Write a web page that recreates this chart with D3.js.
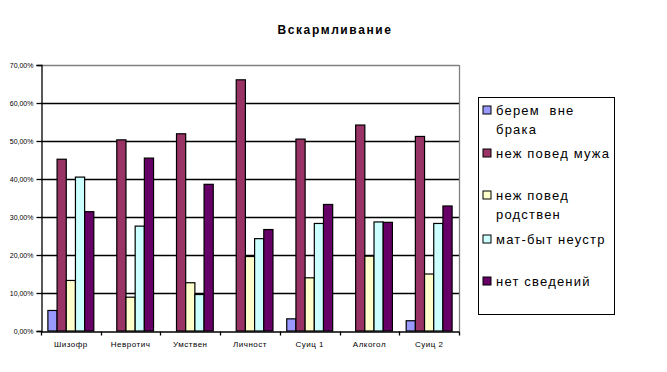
<!DOCTYPE html>
<html>
<head>
<meta charset="utf-8">
<script src="https://cdnjs.cloudflare.com/ajax/libs/d3/7.8.5/d3.min.js"></script>
<style>
    body { margin: 0; background: #fff; }
    svg { display: block; }
    text { font-family: "Liberation Sans", Arial, sans-serif; white-space: pre; }
</style>
</head>
<body>
<div id="chart"></div>
<script>
(function () {

    "use strict";

    // Chart data
    var categories = ["Шизофр", "Невротич", "Умствен", "Личност", "Суиц 1", "Алкогол", "Суиц 2"];
    var seriesNames = ["берем  вне брака", "неж повед мужа", "неж повед родствен", "мат-быт неустр", "нет сведений"];
    var beremVneBraka = [0.054, 0, 0, 0, 0.032, 0, 0.027];
    var nezhPovedMuzha = [0.452, 0.503, 0.519, 0.661, 0.505, 0.542, 0.512];
    var nezhPovedRodstven = [0.133, 0.089, 0.127, 0.196, 0.140, 0.197, 0.150];
    var matBytNeustr = [0.405, 0.276, 0.096, 0.243, 0.283, 0.287, 0.283];
    var netSvedeniy = [0.314, 0.455, 0.386, 0.267, 0.333, 0.286, 0.329];
    var yTicks = [0, 0.1, 0.2, 0.3, 0.4, 0.5, 0.6, 0.7];

    var seriesValues = [beremVneBraka, nezhPovedMuzha, nezhPovedRodstven, matBytNeustr, netSvedeniy];
    var colors = ["#9999FF", "#993366", "#FFFFCC", "#CCFFFF", "#660066"];
    var legendLines = [["берем  вне", "брака"], ["неж повед мужа"], ["неж повед", "родствен"], ["мат-быт неустр"], ["нет сведений"]];

    var width = 667, height = 372,
        plot = {left: 41, right: 459, top: 65, bottom: 331};

    var svg = d3.select("#chart").append("svg")
        .attr("width", width)
        .attr("height", height);

    var x0 = d3.scaleBand()
        .domain(categories)
        .range([plot.left, plot.right])
        .paddingInner(0)
        .paddingOuter(0);

    var x1 = d3.scaleBand()
        .domain(d3.range(seriesNames.length))
        .range([0, x0.bandwidth()])
        .paddingInner(0)
        .paddingOuter(0.75);

    var y = d3.scaleLinear()
        .domain([0, 0.7])
        .range([plot.bottom, plot.top]);

    // Title
    svg.append("text")
        .attr("x", 335)
        .attr("y", 34)
        .attr("text-anchor", "middle")
        .attr("font-size", "12px")
        .attr("font-weight", "bold")
        .attr("letter-spacing", "1.6px")
        .text("Вскармливание");

    // Gridlines
    svg.append("g")
        .selectAll("line")
        .data(yTicks.slice(1))
        .enter()
        .append("line")
        .attr("x1", plot.left)
        .attr("x2", plot.right)
        .attr("y1", function (d) { return Math.round(y(d)) + 0.5; })
        .attr("y2", function (d) { return Math.round(y(d)) + 0.5; })
        .attr("stroke", function (d, i) { return i === yTicks.length - 2 ? "#808080" : "#000"; })
        .attr("stroke-width", 1.3);

    // Right border of the plot area
    svg.append("line")
        .attr("x1", plot.right + 0.5)
        .attr("x2", plot.right + 0.5)
        .attr("y1", plot.top)
        .attr("y2", plot.bottom)
        .attr("stroke", "#808080")
        .attr("stroke-width", 1.3);

    // Bars
    var groups = svg.append("g")
        .selectAll("g")
        .data(categories)
        .enter()
        .append("g")
        .attr("transform", function (d) { return "translate(" + x0(d) + ",0)"; });

    groups.selectAll("rect")
        .data(function (d, ci) {
            return seriesValues.map(function (vals, si) { return {s: si, v: vals[ci]}; });
        })
        .enter()
        .filter(function (d) { return d.v > 0; })
        .append("rect")
        .attr("x", function (d) { return x1(d.s); })
        .attr("y", function (d) { return y(d.v); })
        .attr("width", x1.bandwidth())
        .attr("height", function (d) { return y(0) - y(d.v); })
        .attr("fill", function (d) { return colors[d.s]; })
        .attr("stroke", "#000")
        .attr("stroke-width", 1.2);

    // Y axis
    var yAxis = d3.axisLeft(y)
        .tickValues(yTicks)
        .tickSize(5)
        .tickFormat(function (d) { return d3.format(".2f")(d * 100).replace(".", ",") + "%"; });

    var gy = svg.append("g")
        .attr("transform", "translate(" + (plot.left + 0.5) + ",0)")
        .call(yAxis);
    gy.select(".domain").attr("stroke", "#000").attr("stroke-width", 1.3);
    gy.selectAll(".tick line").attr("stroke", "#000").attr("stroke-width", 1.3);
    gy.selectAll(".tick text")
        .attr("x", -8)
        .attr("font-size", "7px")
        .attr("font-family", "\"Liberation Sans\", Arial, sans-serif")
        .attr("fill", "#000");

    // X axis
    var xAxis = d3.axisBottom(x0).tickSize(0).tickPadding(10);
    var gx = svg.append("g")
        .attr("transform", "translate(0," + (plot.bottom + 0.5) + ")")
        .call(xAxis);
    gx.select(".domain").attr("stroke", "#000").attr("stroke-width", 1.3);
    gx.selectAll(".tick text")
        .attr("font-size", "8px")
        .attr("letter-spacing", "0.5px")
        .attr("font-family", "\"Liberation Sans\", Arial, sans-serif")
        .attr("fill", "#000");

    // Tick marks at the category boundaries
    gx.append("g")
        .selectAll("line")
        .data(categories.concat(["end"]))
        .enter()
        .append("line")
        .attr("x1", function (d, i) { return Math.round(plot.left + i * x0.step()) + 0.5; })
        .attr("x2", function (d, i) { return Math.round(plot.left + i * x0.step()) + 0.5; })
        .attr("y1", 0)
        .attr("y2", 4)
        .attr("stroke", "#000")
        .attr("stroke-width", 1.3);

    // Legend
    var legend = svg.append("g");
    legend.append("rect")
        .attr("x", 478.5)
        .attr("y", 97.5)
        .attr("width", 136)
        .attr("height", 217)
        .attr("fill", "#fff")
        .attr("stroke", "#000")
        .attr("stroke-width", 1);

    var legendY = [110, 153, 195, 239, 281];

    var items = legend.selectAll("g.item")
        .data(seriesNames)
        .enter()
        .append("g")
        .attr("class", "item")
        .attr("transform", function (d, i) { return "translate(0," + legendY[i] + ")"; });

    items.append("rect")
        .attr("x", 483)
        .attr("y", -4)
        .attr("width", 8)
        .attr("height", 8)
        .attr("fill", function (d, i) { return colors[i]; })
        .attr("stroke", "#000")
        .attr("stroke-width", 1);

    items.each(function (d, i) {
        d3.select(this).selectAll("text")
            .data(legendLines[i])
            .enter()
            .append("text")
            .attr("x", 496)
            .attr("y", function (t, j) { return 5 + j * 19; })
            .attr("font-size", "13px")
            .attr("letter-spacing", "1.2px")
            .attr("fill", "#000")
            .text(function (t) { return t; });
    });

}());
</script>
</body>
</html>
